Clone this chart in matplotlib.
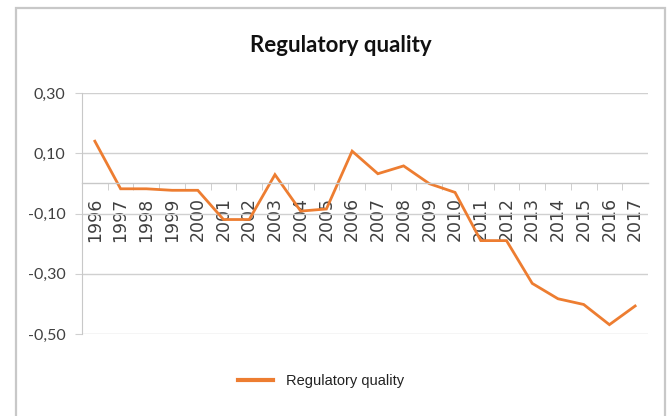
import matplotlib
matplotlib.use("Agg")
import matplotlib.pyplot as plt
from matplotlib.patches import Rectangle
from matplotlib.lines import Line2D
from matplotlib.ticker import FixedLocator, FuncFormatter

years = [str(y) for y in range(1996, 2018)]
values = [0.14, -0.018, -0.018, -0.023, -0.023, -0.12, -0.12, 0.029, -0.092, -0.085,
          0.107, 0.032, 0.058, -0.001, -0.03, -0.19, -0.19, -0.332, -0.383, -0.402,
          -0.469, -0.407]
yticks = [0.30, 0.10, -0.10, -0.30, -0.50]
series_name = "Regulatory quality"
title = "Regulatory quality"

W, H = 669, 416
fig = plt.figure(figsize=(W / 100, H / 100), dpi=100)
fig.patch.set_facecolor("white")

# outer chart border
fig.patches.append(Rectangle((15.5 / W, -0.05), (665 - 15.5) / W, 1.05 - 7.5 / H,
                             transform=fig.transFigure, fill=False,
                             edgecolor="#c8c8c8", linewidth=1.6))

ax = fig.add_axes([82 / W, 1 - 334 / H, (648 - 82) / W, (334 - 93) / H])
x = list(range(len(years)))
ax.plot(x, values, color="#ED7D31", linewidth=2.0, solid_joinstyle="miter")
ax.set_xlim(-0.5, len(years) - 0.5)
ax.set_ylim(-0.5, 0.3)

ax.yaxis.set_major_locator(FixedLocator(yticks))
ax.yaxis.set_major_formatter(FuncFormatter(lambda v, p: f"{v:.2f}".replace(".", ",")))
ax.grid(axis="y", color="#d0d0d0", linewidth=1.0)
ax.set_axisbelow(True)

for s in ["top", "right"]:
    ax.spines[s].set_visible(False)
ax.spines["left"].set_color("#c8c8c8")
ax.spines["bottom"].set_color("#c8c8c8")
ax.spines["bottom"].set_position(("data", 0))
ax.spines["bottom"].set_linewidth(1.0)

ax.set_xticks(x)
ax.set_xticklabels(years, rotation=90, fontsize=12.5, family="DejaVu Sans", color="#404040")
ax.set_xticks([i + 0.5 for i in range(len(years) - 1)], minor=True)
ax.tick_params(axis="x", which="major", length=0, pad=10)
ax.tick_params(axis="x", which="minor", length=5, color="#c8c8c8", direction="out")
ax.tick_params(axis="y", length=5, color="#d0d0d0", labelsize=11.5, labelcolor="#404040", pad=7)
for lab in ax.get_yticklabels():
    lab.set_family("Lato")

fig.text(341 / W, 1 - 46 / H, title, ha="center", va="center",
         fontsize=16, fontweight="bold", family="Lato", color="#111111")

handle = Line2D([], [], color="#ED7D31", linewidth=3)
leg = fig.legend([handle], [series_name], loc="center", bbox_to_anchor=(321 / W, 1 - 381 / H),
                 frameon=False, handlelength=2.4, handletextpad=0.9,
                 prop={"family": ["Liberation Sans Narrow", "Liberation Sans"], "size": 10.5})
for t in leg.get_texts():
    t.set_color("#222222")

fig.savefig("out.png", dpi=100)
